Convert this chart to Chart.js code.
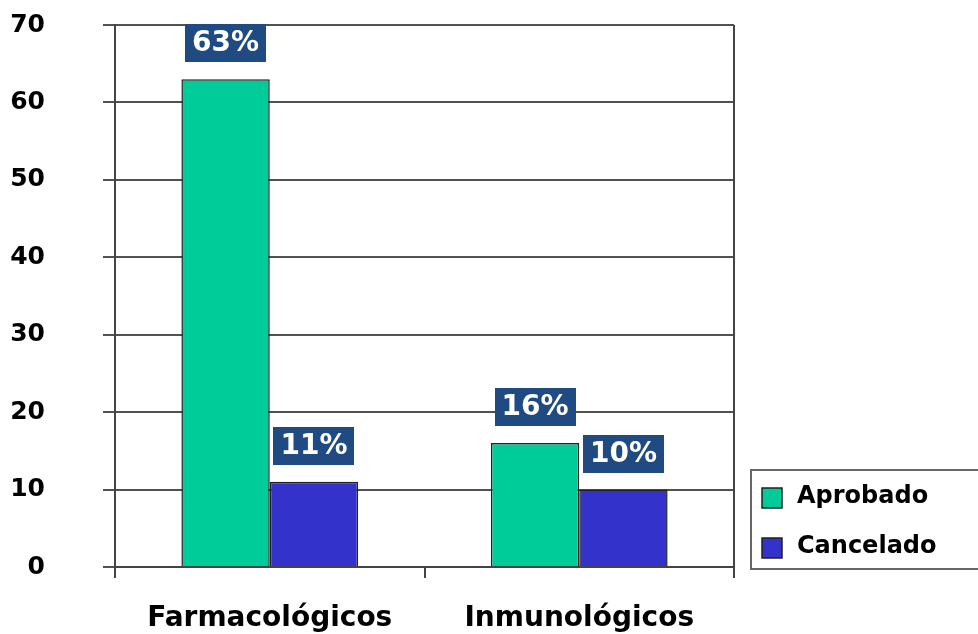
<!DOCTYPE html>
<html>
<head>
<meta charset="utf-8">
<script src="https://cdn.jsdelivr.net/npm/chart.js@4"></script>
<style>
  html,body{margin:0;padding:0;background:#fff;}
  #wrap{width:978px;height:634px;position:relative;}
</style>
</head>
<body>
<div id="wrap"><canvas id="ch" width="978" height="634"></canvas></div>
<script>
// datos
const categorias = ['Farmacológicos', 'Inmunológicos'];
const aprobado = [63, 16];
const cancelado = [11, 10];
const etiquetasAprobado = ['63%', '16%'];
const etiquetasCancelado = ['11%', '10%'];
const ticksY = [0, 10, 20, 30, 40, 50, 60, 70];

const FUENTE = '"DejaVu Sans", Verdana, sans-serif';

// etiquetas en cajas azules sobre cada barra
const etiquetas = {
  id: 'etiquetas',
  afterDatasetsDraw(chart){
    const ctx = chart.ctx;
    ctx.save();
    ctx.font = 'bold 28px ' + FUENTE;
    ctx.textAlign = 'center';
    ctx.textBaseline = 'middle';
    chart.data.datasets.forEach((ds, i) => {
      chart.getDatasetMeta(i).data.forEach((bar, j) => {
        const txt = ds.etiquetas[j];
        const w = ctx.measureText(txt).width + 14;
        const h = 38;
        const x = bar.x, yb = bar.y - 17;
        ctx.fillStyle = '#1F4A82';
        ctx.fillRect(Math.round(x - w/2), Math.round(yb - h), Math.round(w), h);
        ctx.fillStyle = '#fff';
        ctx.fillText(txt, x, yb - h/2 + 1);
      });
    });
    ctx.restore();
  }
};

// borde derecho + leyenda con recuadro
const marco = {
  id: 'marco',
  afterDraw(chart){
    const ctx = chart.ctx, a = chart.chartArea;
    ctx.save();
    ctx.strokeStyle = '#444';
    ctx.lineWidth = 2;
    ctx.beginPath();
    ctx.moveTo(a.right, a.top); ctx.lineTo(a.right, a.bottom);
    ctx.stroke();

    const lx = a.right + 17, ly = 470;
    ctx.strokeStyle = '#666';
    ctx.strokeRect(lx, ly, 260, 99);
    ctx.font = 'bold 24px ' + FUENTE;
    ctx.textBaseline = 'middle';
    ctx.textAlign = 'left';
    chart.data.datasets.forEach((ds, i) => {
      const sy = ly + 18 + i * 50;
      ctx.fillStyle = ds.backgroundColor;
      ctx.fillRect(lx + 11, sy, 20, 20);
      ctx.strokeStyle = '#222';
      ctx.lineWidth = 1.5;
      ctx.strokeRect(lx + 11, sy, 20, 20);
      ctx.fillStyle = '#000';
      ctx.fillText(ds.label, lx + 46, sy + 9);
    });
    ctx.restore();
  }
};

new Chart(document.getElementById('ch'), {
  type: 'bar',
  data: {
    labels: categorias,
    datasets: [
      {label: 'Aprobado', data: aprobado, etiquetas: etiquetasAprobado,
       backgroundColor: '#00CC99', borderColor: '#222', borderWidth: 1.5},
      {label: 'Cancelado', data: cancelado, etiquetas: etiquetasCancelado,
       backgroundColor: '#3333CC', borderColor: '#222', borderWidth: 1.5}
    ]
  },
  options: {
    responsive: false,
    animation: false,
    devicePixelRatio: 1,
    layout: {padding: {top: 25, right: 244, left: 0, bottom: 0}},
    datasets: {bar: {categoryPercentage: 0.571, barPercentage: 1}},
    plugins: {legend: {display: false}, tooltip: {enabled: false}},
    scales: {
      x: {
        z: 1,
        grid: {offset: true, drawOnChartArea: false, drawTicks: true, tickLength: 11, color: '#444', lineWidth: 2},
        border: {color: '#444', width: 2},
        ticks: {color: '#000', font: {family: FUENTE, weight: 'bold', size: 28}, padding: 24},
        afterFit(s){ s.height = 67; }
      },
      y: {
        z: 1,  // las líneas de la cuadrícula pasan por encima de las barras
        min: 0, max: 70,
        afterBuildTicks(s){ s.ticks = ticksY.map(v => ({value: v})); },
        grid: {color: 'rgba(50,50,50,0.85)', lineWidth: 2, tickLength: 12},
        border: {color: '#444', width: 2},
        ticks: {color: '#000', font: {family: FUENTE, weight: 'bold', size: 25}, padding: 58},
        // el padding de las etiquetas no debe empujar el área del gráfico
        afterFit(s){ s.width = 115; s.paddingTop = 12; s.paddingBottom = 12; }
      }
    }
  },
  plugins: [etiquetas, marco]
});
</script>
</body>
</html>
